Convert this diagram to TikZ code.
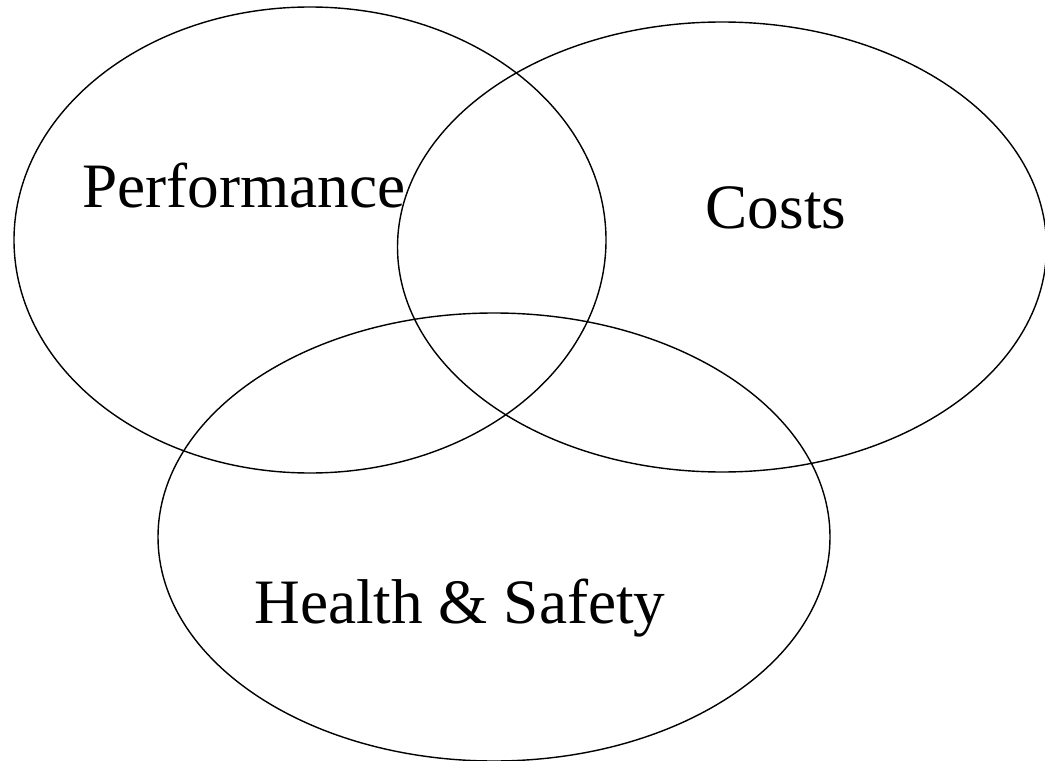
\documentclass[tikz,border=0pt]{standalone}
\usepackage{fontspec}
\setmainfont{Liberation Serif}
\usetikzlibrary{shapes.geometric}
\tikzset{area/.style={ellipse, draw, line width=0.8pt, inner sep=0pt, outer sep=0pt}}
\tikzset{setname/.style={anchor=base, font=\fontsize{36}{40}\selectfont, inner sep=0pt}}

\begin{document}
\begin{tikzpicture}
\useasboundingbox (0,0) rectangle (20.9,15.2);
% Sets
\node (Performance) [area, minimum width=11.84cm, minimum height=9.32cm] at (6.2,10.4) {};
\node (Costs) [area, minimum width=12.98cm, minimum height=9.0cm] at (14.44,10.26) {};
\node (HealthSafety) [area, minimum width=13.44cm, minimum height=8.96cm] at (9.88,4.46) {};

% Labels
\node (PerformanceLabel) [setname] at (4.88,11.04) {Performance};
\node (CostsLabel) [setname] at (15.52,10.64) {Costs};
\node (HealthSafetyLabel) [setname] at (9.2,2.74) {Health \& Safety};
\end{tikzpicture}
\end{document}
